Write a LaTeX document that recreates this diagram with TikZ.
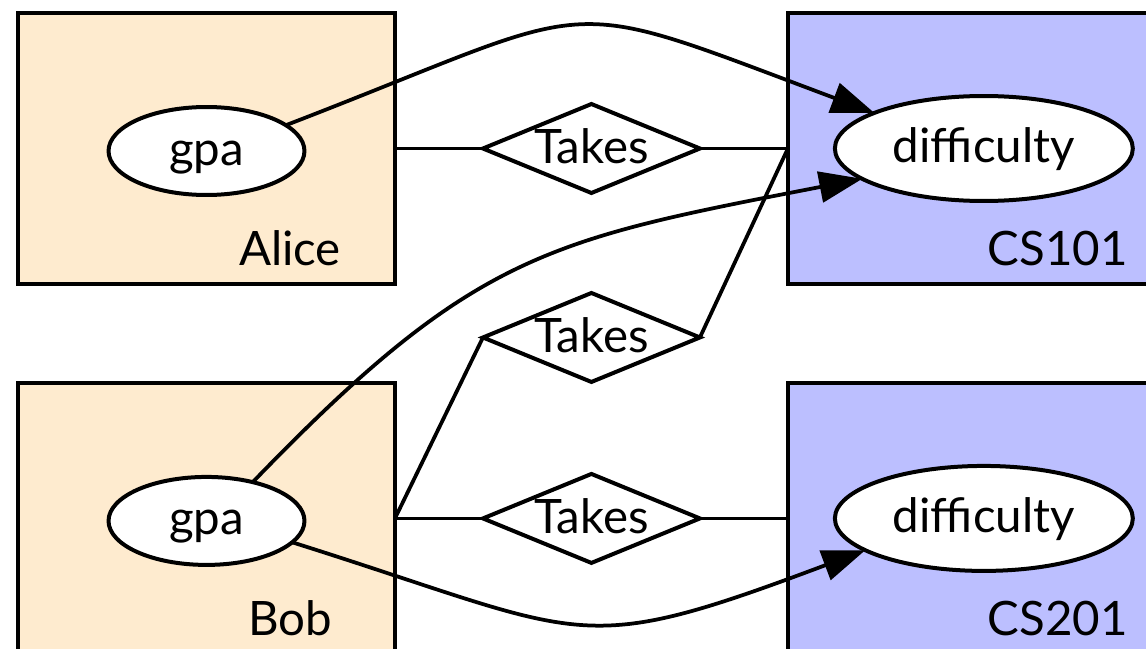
\documentclass[tikz,border=0pt]{standalone}
\usepackage{fontspec}
\setmainfont{Lato}
\usetikzlibrary{positioning,arrows.meta,shapes.geometric}
\definecolor{stufill}{RGB}{254,235,207}
\definecolor{crsfill}{RGB}{188,191,255}
\tikzset{
  er/.style={font=\fontsize{27}{32}\selectfont, line width=0.08cm, outer sep=0pt},
  ent/.style={draw, fill=#1, minimum width=7.54cm, minimum height=5.42cm},
  attr/.style={draw, fill=white, ellipse, inner sep=0pt,
    text height=20pt, text depth=4pt},
  rel/.style={draw, fill=white, diamond, aspect=2.44, inner sep=0pt,
    minimum width=4.34cm, minimum height=1.78cm,
    text height=20pt, text depth=3pt},
  entlbl/.style={anchor=base, inner sep=0pt},
  erln/.style={line width=0.075cm},
  erarr/.style={erln, -{Triangle[length=0.86cm,width=0.62cm]}},
}
\begin{document}
\begin{tikzpicture}[er, x=0.02cm, y=-0.02cm]
  \useasboundingbox (0,0) rectangle (1146,649);
  \clip (0,0) rectangle (1146,649);

  % Students
  \node[ent=stufill] (alice) at (206.5,148.5) {};
  \node[ent=stufill, below=1.98cm of alice] (bob) {};
  \node[entlbl] (alicelbl) at ([shift={(1.67cm,0.36cm)}]alice.south) {Alice};
  \node[entlbl] (boblbl) at ([shift={(1.67cm,0.36cm)}]bob.south) {Bob};

  % Courses
  \node[ent=crsfill, minimum width=7.84cm, right=7.86cm of alice] (cs101) {};
  \node[ent=crsfill, minimum width=7.84cm, below=1.98cm of cs101] (cs201) {};
  \node[entlbl] (cs101lbl) at ([shift={(1.48cm,0.36cm)}]cs101.south) {CS101};
  \node[entlbl] (cs201lbl) at ([shift={(1.48cm,0.36cm)}]cs201.south) {CS201};

  % Attributes
  \node[attr, minimum width=3.92cm, minimum height=1.76cm] (agpa)
    at ([yshift=-0.05cm]alice.center) {gpa};
  \node[attr, minimum width=3.92cm, minimum height=1.76cm] (bgpa)
    at ([yshift=-0.05cm]bob.center) {gpa};
  \node[attr, minimum width=5.96cm, minimum height=2.1cm] (cdiff1)
    at (cs101.center) {difficulty};
  \node[attr, minimum width=5.96cm, minimum height=2.1cm] (cdiff2)
    at (cs201.center) {difficulty};

  % Relationships
  \node[rel, right=1.76cm of alice] (t1) {Takes};
  \node[rel, below=2cm of t1] (t2) {Takes};
  \node[rel, right=1.76cm of bob] (t3) {Takes};

  \draw[erln] (alice.east) -- (t1.west);
  \draw[erln] (t1.east) -- (cs101.west);
  \draw[erln] (bob.east) -- (t2.west);
  \draw[erln] (t2.east) -- (cs101.west);
  \draw[erln] (bob.east) -- (t3.west);
  \draw[erln] (t3.east) -- (cs201.west);

  % gpa -> difficulty
  \draw[erarr] (agpa.18) .. controls +(325,-125) and +(-326,-122) .. (cdiff1.162);
  \draw[erarr] (bgpa.40) .. controls +(222,-230) and +(-314,61) .. (cdiff1.194);
  \draw[erarr] (bgpa.-14) .. controls +(299,94) and +(-293,110) .. (cdiff2.195);
\end{tikzpicture}
\end{document}
